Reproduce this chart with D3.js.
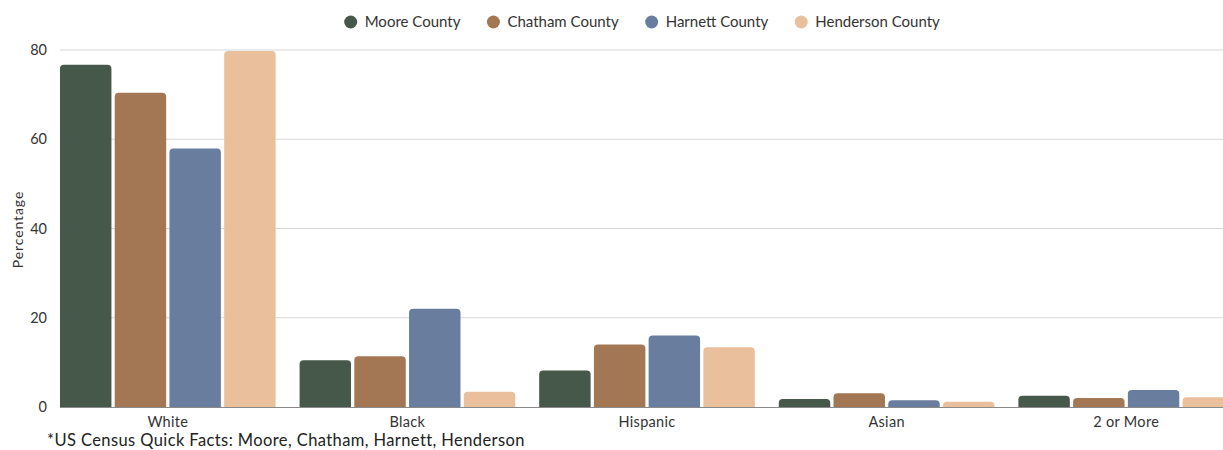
<!DOCTYPE html>
<html>
<head>
<meta charset="utf-8">
<script src="https://cdn.jsdelivr.net/npm/d3@7"></script>
<style>
  html, body { margin: 0; padding: 0; background: #fff; overflow: hidden; }
  svg { display: block; font-family: "Lato", "Noto Sans", sans-serif; }
</style>
</head>
<body>
<svg id="chart" width="1223" height="450"></svg>
<script>
// Race / ethnicity share by county (percent of population)
const categories = ["White", "Black", "Hispanic", "Asian", "2 or More"];
const counties = ["Moore County", "Chatham County", "Harnett County", "Henderson County"];
const moore     = [76.7, 10.5,  8.2, 1.8, 2.5];
const chatham   = [70.4, 11.4, 14.0, 3.1, 2.0];
const harnett   = [57.9, 22.0, 16.0, 1.5, 3.8];
const henderson = [79.8,  3.4, 13.4, 1.2, 2.2];
const yTicks = [0, 20, 40, 60, 80];
const colors = ["#465849", "#a37753", "#697e9f", "#eabf9c"];
const footnote = "*US Census Quick Facts: Moore, Chatham, Harnett, Henderson";

const seriesValues = [moore, chatham, harnett, henderson];

const svg = d3.select("#chart");
const plotLeft = 60, plotRight = 1223, plotTop = 50, plotBottom = 407;

const y = d3.scaleLinear().domain([0, 80]).range([plotBottom, plotTop]);

const x0 = d3.scaleBand()
  .domain(categories)
  .range([48, 48 + 5 * 239.6])
  .paddingInner(0.1)
  .paddingOuter(0.05);

const x1 = d3.scaleBand()
  .domain(counties)
  .range([0, x0.bandwidth()])
  .paddingInner(0.06);

const color = d3.scaleOrdinal().domain(counties).range(colors);

// Horizontal gridlines
svg.append("g")
  .selectAll("line")
  .data(yTicks.filter(t => t !== 0))
  .join("line")
  .attr("x1", plotLeft).attr("x2", plotRight)
  .attr("y1", d => y(d)).attr("y2", d => y(d))
  .attr("stroke", "#d6d6d6").attr("stroke-width", 1);

// Y axis tick labels
const yAxis = svg.append("g")
  .attr("transform", `translate(${plotLeft - 13},0)`)
  .call(d3.axisLeft(y).tickValues(yTicks).tickSize(0).tickPadding(0));
yAxis.select(".domain").remove();
yAxis.selectAll("text")
  .attr("font-size", 14.5).attr("fill", "#333")
  .attr("font-family", "Lato, 'Noto Sans', sans-serif");

// Y axis title
svg.append("text")
  .attr("transform", `translate(23,${(plotTop + plotBottom) / 2 + 1}) rotate(-90)`)
  .attr("text-anchor", "middle")
  .attr("font-size", 14).attr("letter-spacing", 0.9).attr("fill", "#333")
  .text("Percentage");

// Bars with rounded top corners
function topRounded(x, yTop, w, h, r) {
  r = Math.min(r, h, w / 2);
  return `M${x},${yTop + h}V${yTop + r}Q${x},${yTop} ${x + r},${yTop}` +
         `H${x + w - r}Q${x + w},${yTop} ${x + w},${yTop + r}V${yTop + h}Z`;
}

const groups = svg.append("g")
  .selectAll("g")
  .data(categories)
  .join("g")
  .attr("transform", d => `translate(${x0(d)},0)`);

groups.selectAll("path")
  .data((cat, i) => counties.map((c, k) => ({ county: c, value: seriesValues[k][i] })))
  .join("path")
  .attr("fill", d => color(d.county))
  .attr("d", d => topRounded(x1(d.county), y(d.value), x1.bandwidth(), y(0) - y(d.value), 4));

// Baseline
svg.append("line")
  .attr("x1", plotLeft).attr("x2", plotRight)
  .attr("y1", y(0) + 0.5).attr("y2", y(0) + 0.5)
  .attr("stroke", "#8a8a8a").attr("stroke-width", 1);

// X axis category labels
const xAxis = svg.append("g")
  .attr("transform", `translate(0,${plotBottom + 10})`)
  .call(d3.axisBottom(x0).tickSize(0).tickPadding(0));
xAxis.select(".domain").remove();
xAxis.selectAll("text")
  .attr("font-size", 14.5).attr("letter-spacing", 0.3).attr("fill", "#333")
  .attr("font-family", "Lato, 'Noto Sans', sans-serif");

// Footnote
svg.append("text")
  .attr("x", 47).attr("y", 446)
  .attr("font-size", 16.5).attr("letter-spacing", 0.4).attr("fill", "#222")
  .text(footnote);

// Legend, centered across the top
const legend = svg.append("g");
const items = legend.selectAll("g")
  .data(counties)
  .join("g");
items.append("circle")
  .attr("r", 6.5).attr("cy", 0).attr("cx", 0)
  .attr("fill", d => color(d));
items.append("text")
  .attr("x", 14).attr("y", 5)
  .attr("font-size", 15).attr("fill", "#333")
  .text(d => d);
let cursor = 0;
items.each(function () {
  const g = d3.select(this);
  const tw = g.select("text").node().getComputedTextLength();
  g.attr("transform", `translate(${cursor},22)`);
  cursor += 14 + tw + 33;
});
const legendWidth = cursor - 33 + 6.5;
legend.attr("transform", `translate(${642 - legendWidth / 2 + 6.5},0)`);
</script>
</body>
</html>
